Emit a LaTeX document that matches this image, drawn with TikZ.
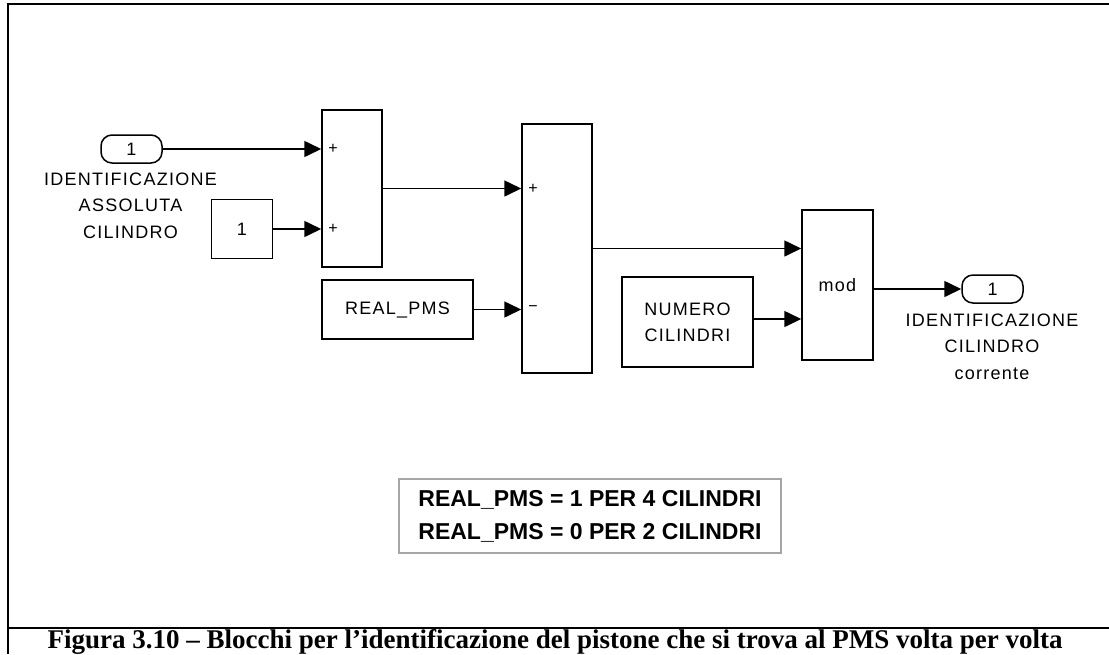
\documentclass[tikz,border=0pt]{standalone}
\usepackage{fontspec}
\setmainfont{Liberation Serif}
\newfontfamily\slfont[LetterSpace=7]{Liberation Sans}
\newfontfamily\notefont{Liberation Sans}
\usetikzlibrary{arrows.meta, positioning}
\tikzset{
	blk/.style={draw, line width=1.5pt, inner sep=0pt, font=\slfont\fontsize{18}{26}\selectfont, align=center},
	port/.style={blk, rounded corners=11pt, minimum width=61pt, minimum height=28pt},
	lbl/.style={inner sep=0pt, font=\slfont\fontsize{18}{26.5}\selectfont, align=center},
	sgn/.style={inner sep=0pt, font=\notefont\fontsize{16}{16}\selectfont},
	sig/.style={-{Triangle[length=17pt, width=16pt]}, line width=1.6pt}
}

\begin{document}
\begin{tikzpicture}[x=1pt, y=-1pt]
	\useasboundingbox (0,0) rectangle (1109,654);
	% outer frame and caption rule
	\draw[line width=2.5pt] (1109,4) -- (8,4) -- (8,654);
	\draw[line width=2.2pt] (8,628) -- (1109,628);

	% blocks
	\node[port] (in1) at (131.5,149) {1};
	\node[lbl, anchor=north] (in1lbl) at (130.5,172.5) {IDENTIFICAZIONE\\ASSOLUTA\\CILINDRO};
	\node[blk, minimum width=61pt, minimum height=59pt] (one) at (242,229) {1};
	\node[blk, minimum width=60pt, minimum height=157pt] (sum1) at (352,188.5) {};
	\node[blk, minimum width=151pt, minimum height=59pt] (rpms) at (397.5,309.5) {REAL\_PMS};
	\node[blk, minimum width=70pt, minimum height=249pt] (sum2) at (557,248.5) {};
	\node[blk, minimum width=131pt, minimum height=90pt] (ncil) at (687.5,322) {NUMERO\\CILINDRI};
	\node[blk, minimum width=71pt, minimum height=150pt] (mod) at (837.5,285) {mod};
	\node[port] (out1) at (992.5,289) {1};
	\node[lbl, anchor=north] (out1lbl) at (992,313.5) {IDENTIFICAZIONE\\CILINDRO\\corrente};

	% signs on the sum inputs
	\node[sgn] at (333,149) {+};
	\node[sgn] at (333,229) {+};
	\node[sgn] at (533,189) {+};
	\node[sgn] at (533,309) {\textminus};

	% signals
	\draw[sig] (in1.east) -- (in1.east -| sum1.west);
	\draw[sig] (one.east) -- (one.east -| sum1.west);
	\draw[sig] (sum1.east) -- (sum1.east -| sum2.west);
	\draw[sig] (rpms.east) -- (rpms.east -| sum2.west);
	\draw[sig] (sum2.east) -- (sum2.east -| mod.west);
	\draw[sig] (ncil.east |- 0,319) coordinate (nc) -- (nc -| mod.west);
	\draw[sig] (mod.east |- out1.west) -- (out1.west);

	% note
	\node[draw=gray!70, line width=1.5pt, minimum width=382pt, minimum height=74pt, align=center,
		font=\notefont\bfseries\fontsize{23}{33}\selectfont] (note) at (590,516)
		{REAL\_PMS = 1 PER 4 CILINDRI\\REAL\_PMS = 0 PER 2 CILINDRI};

	% caption
	\node[font=\bfseries\fontsize{27}{28}\selectfont] (cap) at (555,642)
		{Figura 3.10 -- Blocchi per l'identificazione del pistone che si trova al PMS volta per volta};
\end{tikzpicture}
\end{document}
